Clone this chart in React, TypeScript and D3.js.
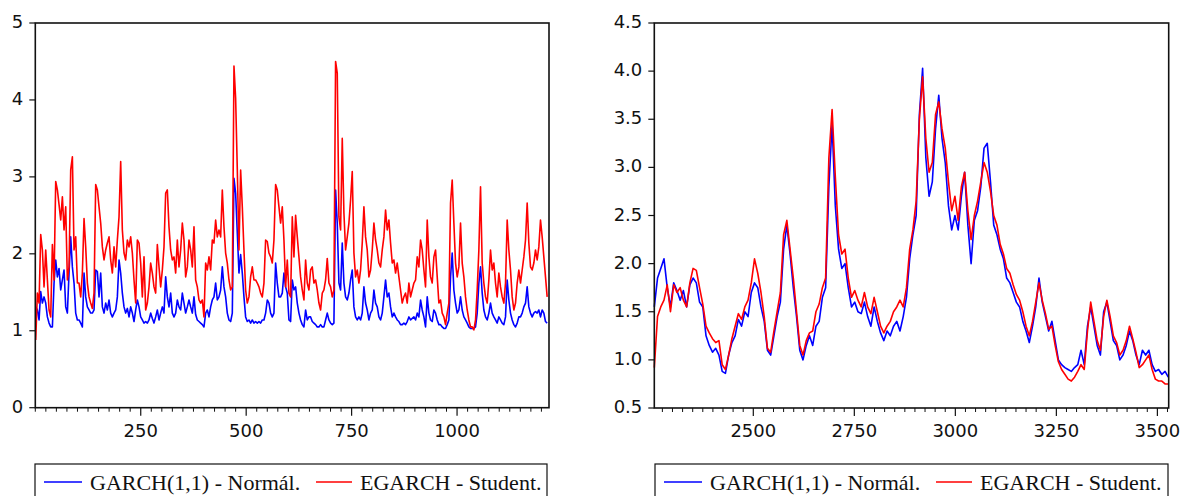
import React from "react";
import * as d3 from "d3";

// ---------- data ----------
const LEFT_START = 1;
const LEFT_STEP = 3.95;
const leftGarch = [
  1.31,1.27,1.14,1.51,1.36,1.44,1.36,1.18,1.10,1.05,
  1.05,1.62,1.92,1.70,1.81,1.53,1.66,1.79,1.31,1.23,
  1.75,2.22,1.83,1.62,1.23,1.14,1.14,1.10,1.05,1.75,
  1.44,1.31,1.27,1.23,1.23,1.27,1.79,1.77,1.44,1.75,
  1.31,1.23,1.36,1.27,1.40,1.23,1.18,1.23,1.27,1.44,
  1.92,1.75,1.49,1.31,1.23,1.29,1.18,1.31,1.23,1.12,
  1.27,1.40,1.31,1.18,1.14,1.10,1.12,1.10,1.14,1.23,
  1.16,1.10,1.18,1.27,1.14,1.23,1.31,1.23,1.70,1.44,
  1.31,1.49,1.23,1.18,1.23,1.40,1.31,1.27,1.49,1.36,
  1.23,1.31,1.40,1.31,1.23,1.44,1.21,1.14,1.12,1.10,
  1.08,1.05,1.23,1.27,1.18,1.31,1.40,1.44,1.62,1.40,
  1.44,1.53,1.83,1.57,1.44,1.23,1.14,1.12,1.23,2.98,
  2.79,2.27,1.75,1.99,1.75,1.44,1.18,1.12,1.14,1.10,
  1.14,1.10,1.12,1.10,1.12,1.10,1.14,1.14,1.23,1.40,
  1.36,1.23,1.18,1.23,1.88,1.62,1.44,1.44,1.49,1.75,
  1.57,1.49,1.14,1.12,
  1.66,1.53,1.57,1.36,1.23,1.14,1.08,1.05,1.27,1.14,
  1.18,1.18,1.12,1.10,1.08,1.05,1.05,1.08,1.05,1.05,
  1.14,1.23,1.14,1.10,1.08,1.10,2.83,2.40,1.62,1.53,
  2.14,1.62,1.44,1.40,1.49,1.66,1.79,1.31,1.18,1.14,
  1.18,1.14,1.23,1.57,1.36,1.27,1.14,1.23,1.27,1.53,
  1.36,1.31,1.18,1.14,1.23,1.44,1.66,1.44,1.49,1.31,
  1.18,1.23,1.18,1.14,1.12,1.08,1.08,1.10,1.08,1.12,
  1.18,1.14,1.16,1.18,1.14,1.23,1.18,1.40,1.27,1.18,
  1.05,1.44,1.23,1.14,1.12,1.27,1.23,1.14,1.08,1.08,
  1.05,1.03,1.03,1.08,1.14,1.70,2.01,1.53,1.36,1.23,
  1.27,1.44,1.27,1.18,1.14,1.10,1.05,1.03,1.03,1.03,
  1.05,1.23,1.62,1.83,1.49,1.27,1.18,1.14,1.23,1.36,
  1.23,1.18,1.14,1.10,1.18,1.14,1.10,1.08,1.18,1.66,
  1.40,1.23,1.14,1.08,1.05,1.10,1.18,1.18,1.23,1.31,
  1.36,1.57,1.31,1.23,1.18,1.23,1.25,1.23,1.27,1.18,
  1.27,1.23,1.12,1.10,
];
const leftEgarch = [
  0.88,1.49,1.36,2.25,2.05,1.57,2.05,1.66,1.27,1.18,
  2.12,1.66,2.94,2.83,2.64,2.44,2.74,2.31,2.61,1.66,
  1.83,3.09,3.26,2.05,2.22,1.62,1.62,1.44,1.75,2.46,
  2.09,1.62,1.44,1.36,1.29,1.49,2.90,2.83,2.61,2.40,
  2.09,1.92,2.05,2.14,2.22,1.92,1.75,2.09,1.83,2.18,
  2.48,3.20,2.31,2.01,1.92,2.18,2.09,2.22,2.01,1.66,
  1.36,2.18,2.14,1.88,1.44,1.96,1.27,1.36,1.57,1.88,
  1.75,1.57,1.49,2.12,1.83,1.57,1.79,2.09,2.79,2.83,
  2.35,2.05,1.92,1.96,1.75,2.18,1.83,2.05,2.40,2.18,
  1.70,1.83,2.18,2.05,1.83,2.35,1.66,1.57,1.40,1.36,
  1.40,1.18,1.88,1.79,1.96,1.79,2.18,2.14,2.44,2.22,
  2.31,2.22,2.83,2.35,2.01,1.88,1.66,1.53,1.57,4.44,
  4.02,3.10,2.05,3.09,2.61,2.05,1.53,1.36,1.44,1.70,
  1.83,1.66,1.66,1.62,1.57,1.49,1.44,1.62,2.18,2.16,
  2.01,1.96,1.88,2.18,2.90,2.83,2.61,2.40,2.61,2.18,
  1.57,1.92,1.49,1.44,
  2.48,1.96,2.50,2.22,1.96,1.70,1.53,1.40,1.92,1.62,
  1.53,1.79,1.83,1.62,1.66,1.53,1.36,1.27,1.49,1.53,
  1.66,1.94,1.62,1.57,1.44,1.53,4.50,4.35,2.48,2.31,
  3.50,2.53,2.05,2.22,2.40,2.70,3.07,2.01,1.70,1.79,
  1.62,1.79,2.14,2.61,2.22,2.05,1.70,1.79,2.05,2.40,
  2.18,2.05,1.88,1.83,2.05,2.22,2.57,2.31,2.44,2.14,
  1.88,1.92,1.75,1.88,1.70,1.53,1.36,1.44,1.49,1.36,
  1.62,1.44,1.53,1.62,1.66,1.96,1.83,2.18,2.05,1.79,
  1.57,2.44,1.96,1.70,1.62,1.96,2.05,1.70,1.36,1.40,
  1.23,1.18,1.08,1.23,1.36,2.66,2.96,2.40,1.88,1.70,
  1.83,2.40,1.88,1.70,1.44,1.27,1.14,1.05,1.05,1.01,
  1.14,1.53,2.05,2.87,1.88,1.62,1.44,1.36,1.66,2.05,
  1.79,1.88,1.62,1.44,1.75,1.57,1.44,1.36,1.62,2.44,
  2.05,1.79,1.44,1.27,1.36,1.62,1.79,1.62,1.79,1.96,
  2.18,2.66,2.14,1.83,1.79,1.88,2.05,1.92,2.09,2.44,
  2.22,1.96,1.70,1.44,
];

const RIGHT_START = 2255;
const RIGHT_STEP = 8;
const rightGarch = [
  1.55,1.85,1.95,2.05,1.75,1.55,1.80,1.72,1.62,1.72,
  1.55,1.78,1.85,1.80,1.60,1.55,1.25,1.15,1.08,1.12,
  1.05,0.88,0.86,1.05,1.18,1.25,1.42,1.35,1.50,1.45,
  1.70,1.80,1.75,1.55,1.40,1.10,1.05,1.25,1.45,1.60,
  2.15,2.40,2.10,1.75,1.45,1.10,1.00,1.15,1.25,1.15,
  1.35,1.40,1.65,1.75,2.80,3.45,2.60,2.15,1.95,2.00,
  1.75,1.55,1.60,1.50,1.48,1.60,1.45,1.35,1.55,1.40,
  1.28,1.20,1.30,1.25,1.35,1.40,1.30,1.45,1.65,2.05,
  2.30,2.50,3.55,4.03,3.10,2.70,2.85,3.40,3.75,3.30,
  3.05,2.60,2.35,2.50,2.35,2.70,2.95,2.40,2.00,2.45,
  2.55,2.80,3.20,3.25,2.85,2.40,2.30,2.15,2.05,1.85,
  1.80,1.70,1.60,1.55,1.40,1.30,1.18,1.35,1.55,1.85,
  1.60,1.45,1.30,1.40,1.20,1.00,0.95,0.92,0.90,0.88,
  0.92,0.95,1.10,0.95,1.35,1.55,1.35,1.15,1.05,1.50,
  1.60,1.40,1.20,1.15,1.00,1.05,1.15,1.30,1.20,1.05,
  0.95,1.10,1.05,1.10,0.95,0.88,0.90,0.85,0.88,0.82,
];
const rightEgarch = [
  0.92,1.45,1.55,1.62,1.78,1.50,1.78,1.70,1.75,1.62,
  1.55,1.80,1.95,1.93,1.75,1.58,1.35,1.28,1.22,1.18,
  1.20,0.95,0.90,1.05,1.22,1.35,1.48,1.42,1.55,1.62,
  1.80,2.05,1.90,1.70,1.45,1.12,1.08,1.30,1.50,1.70,
  2.30,2.45,2.15,1.85,1.50,1.15,1.05,1.20,1.28,1.30,
  1.50,1.58,1.75,1.85,3.10,3.60,2.90,2.30,2.10,2.15,
  1.85,1.65,1.72,1.62,1.55,1.70,1.55,1.48,1.65,1.50,
  1.35,1.28,1.35,1.40,1.50,1.55,1.62,1.55,1.75,2.15,
  2.35,2.65,3.50,3.94,3.30,2.95,3.05,3.55,3.68,3.40,
  3.20,2.85,2.55,2.70,2.45,2.80,2.95,2.55,2.25,2.50,
  2.65,2.85,3.05,2.95,2.75,2.50,2.40,2.20,2.10,1.95,
  1.90,1.78,1.68,1.62,1.50,1.35,1.25,1.40,1.60,1.80,
  1.62,1.48,1.32,1.35,1.15,0.98,0.90,0.85,0.80,0.78,
  0.82,0.88,0.95,0.90,1.30,1.60,1.40,1.20,1.10,1.45,
  1.62,1.45,1.25,1.18,1.05,1.10,1.20,1.35,1.22,1.08,
  0.92,0.95,1.00,1.05,0.90,0.80,0.78,0.78,0.75,0.75,
];

const leftYTicks = [0, 1, 2, 3, 4, 5];
const rightYTicks = [0.5, 1.0, 1.5, 2.0, 2.5, 3.0, 3.5, 4.0, 4.5];
const leftXMajor = [250, 500, 750, 1000];
const rightXMajor = [2500, 2750, 3000, 3250, 3500];
const seriesNames = ["GARCH(1,1) - Normál.", "EGARCH - Student."];
const seriesColors = ["#0000ff", "#ff0000"];

type PanelProps = {
  left: number; right: number; top: number; bottom: number;
  xDomain: [number, number]; yDomain: [number, number];
  yTicks: number[]; yFmt: (v: number) => string;
  xMajor: number[]; start: number; step: number;
  blue: number[]; red: number[];
};

function Panel(p: PanelProps) {
  const xs = d3.scaleLinear().domain(p.xDomain).range([p.left, p.right]);
  const ys = d3.scaleLinear().domain(p.yDomain).range([p.bottom, p.top]);
  const line = d3
    .line<number>()
    .x((_, i) => xs(p.start + i * p.step))
    .y((d) => ys(d));
  const minor = d3
    .range(Math.ceil(p.xDomain[0] / 25) * 25, p.xDomain[1], 25)
    .filter((v) => !p.xMajor.includes(v));
  const tickFont = "'DejaVu Sans', sans-serif";
  return (
    <g>
      <path d={line(p.blue) || ""} fill="none" stroke={seriesColors[0]} strokeWidth={1.6} strokeLinejoin="round" />
      <path d={line(p.red) || ""} fill="none" stroke={seriesColors[1]} strokeWidth={1.6} strokeLinejoin="round" />
      <rect x={p.left} y={p.top} width={p.right - p.left} height={p.bottom - p.top} fill="none" stroke="#111" strokeWidth={1.6} />
      {p.yTicks.map((t) => (
        <g key={"y" + t}>
          <line x1={p.left - 6} x2={p.left} y1={ys(t)} y2={ys(t)} stroke="#111" strokeWidth={1.2} />
          <text x={p.left - 12} y={ys(t) + 5} textAnchor="end" fontFamily={tickFont} fontSize={18} fill="#111">
            {p.yFmt(t)}
          </text>
        </g>
      ))}
      {minor.map((t) => (
        <line key={"m" + t} x1={xs(t)} x2={xs(t)} y1={p.bottom} y2={p.bottom + 4} stroke="#111" strokeWidth={1} />
      ))}
      {p.xMajor.map((t) => (
        <g key={"x" + t}>
          <line x1={xs(t)} x2={xs(t)} y1={p.bottom} y2={p.bottom + 8} stroke="#111" strokeWidth={1.2} />
          <text x={xs(t)} y={437} textAnchor="middle" fontFamily={tickFont} fontSize={18} fill="#111">
            {t}
          </text>
        </g>
      ))}
    </g>
  );
}

function Legend({ x, w }: { x: number; w: number }) {
  const serif = "'Liberation Serif', 'Times New Roman', serif";
  return (
    <g>
      <rect x={x} y={464} width={w} height={40} fill="#fff" stroke="#111" strokeWidth={1.2} />
      <line x1={x + 9} x2={x + 47} y1={482} y2={482} stroke={seriesColors[0]} strokeWidth={1.4} />
      <text x={x + 55} y={489.5} fontFamily={serif} fontSize={22} fill="#111">{seriesNames[0]}</text>
      <line x1={x + 281} x2={x + 317} y1={482} y2={482} stroke={seriesColors[1]} strokeWidth={1.4} />
      <text x={x + 325} y={489.5} fontFamily={serif} fontSize={22} fill="#111">{seriesNames[1]}</text>
    </g>
  );
}

export default function App() {
  return (
    <svg
      width={1188}
      height={496}
      viewBox="0 0 1188 496"
      style={{ position: "absolute", left: 0, top: 0, display: "block", background: "#fff" }}
    >
      <rect x={0} y={0} width={1188} height={496} fill="#fff" />
      <Panel
        left={35.3} right={549} top={23} bottom={407.7}
        xDomain={[0, 1218]} yDomain={[0, 5]}
        yTicks={leftYTicks} yFmt={d3.format("d")}
        xMajor={leftXMajor} start={LEFT_START} step={LEFT_STEP}
        blue={leftGarch} red={leftEgarch}
      />
      <Panel
        left={654.3} right={1168.7} top={23} bottom={408}
        xDomain={[2255, 3528]} yDomain={[0.5, 4.5]}
        yTicks={rightYTicks} yFmt={d3.format(".1f")}
        xMajor={rightXMajor} start={RIGHT_START} step={RIGHT_STEP}
        blue={rightGarch} red={rightEgarch}
      />
      <Legend x={35} w={512} />
      <Legend x={655} w={513} />
    </svg>
  );
}
